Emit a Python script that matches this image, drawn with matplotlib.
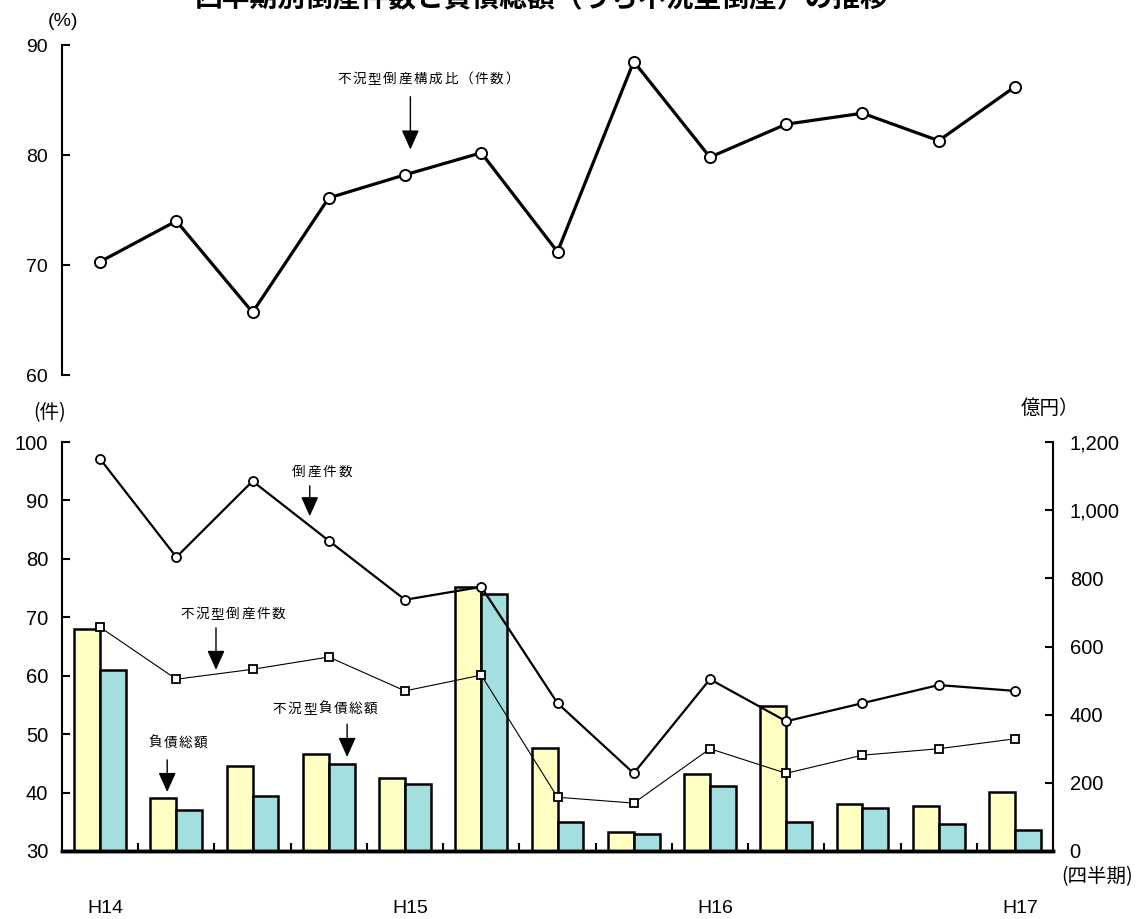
import numpy as np
import matplotlib
matplotlib.use('Agg')
from matplotlib import pyplot as plt

plt.rcParams['font.family'] = ['Noto Sans CJK JP', 'DejaVu Sans']

# quarterly data (H14 Q1 .. H17 Q1)
quarters = ['H14', '', '', '', 'H15', '', '', '', 'H16', '', '', '', 'H17']
ratio_pct = [70.3, 74.0, 65.7, 76.1, 78.2, 80.2, 71.2, 88.5, 79.8, 82.8, 83.8, 81.3, 86.2]
bankrupt_cnt = [97.1, 80.3, 93.3, 83.1, 73.0, 75.2, 55.3, 43.3, 59.4, 52.2, 55.3, 58.4, 57.4]
recession_cnt = [68.3, 59.4, 61.1, 63.2, 57.4, 60.1, 39.2, 38.2, 47.5, 43.3, 46.4, 47.5, 49.2]
debt_total = [651, 156, 249, 285, 214, 775, 302, 56, 226, 425, 138, 132, 173]
debt_recession = [531, 120, 161, 255, 197, 754, 85, 50, 191, 85, 126, 79, 62]

num_font = ['Liberation Sans', 'DejaVu Sans']
narrow_font = ['Liberation Sans Narrow', 'Liberation Sans', 'DejaVu Sans']

W, H = 1139, 919
fig = plt.figure(figsize=(W / 100, H / 100), dpi=100)

def frame(x0, y0, x1, y1):
    return [x0 / W, 1 - y1 / H, (x1 - x0) / W, (y1 - y0) / H]

def spaced(a, xc, y, s, pitch=15.3, size=9.8):
    # draw label one glyph at a time to get the wide letter spacing
    n = len(s)
    for i, ch in enumerate(s):
        a.annotate(ch, xy=(xc, y), xytext=((i - (n - 1) / 2) * pitch, 0),
                   textcoords='offset pixels', ha='center', va='center', fontsize=size)

arrow = dict(arrowstyle='-|>,head_length=1.0,head_width=0.45', color='black', lw=1,
             mutation_scale=12, shrinkA=0, shrinkB=0)

x = np.arange(len(quarters))

# ---- top chart: share of recession-type bankruptcies
ax_top = fig.add_axes(frame(62, 45, 1053, 375))
ax_top.plot(x, ratio_pct, color='black', lw=2.3, marker='o', ms=8,
            mfc='white', mec='black', mew=1.4, zorder=3)
ax_top.set_xlim(-0.5, 12.5)
ax_top.set_ylim(60, 90)
ax_top.set_yticks([60, 70, 80, 90])
ax_top.set_xticks([])
for s in ['top', 'right', 'bottom']:
    ax_top.spines[s].set_visible(False)
ax_top.spines['left'].set_linewidth(1.5)
ax_top.tick_params(axis='y', direction='in', length=6, width=1.5, pad=10)
for lab in ax_top.get_yticklabels():
    lab.set_family(narrow_font)
    lab.set_fontsize(14)
ax_top.annotate('', xy=(4.07, 80.5), xytext=(4.07, 85.3), arrowprops=arrow)
spaced(ax_top, 4.3, 86.9, '不況型倒産構成比（件数）')
fig.text(63 / W, 1 - 22 / H, '(%)', ha='center', va='center', family=narrow_font, fontsize=14)

# ---- bottom chart: counts (left) and debt (right)
ax = fig.add_axes(frame(62, 442, 1053, 851))
ax2 = ax.twinx()
ax.set_zorder(ax2.get_zorder() + 1)
ax.patch.set_visible(False)

bw = 0.34
ax2.bar(x - bw / 2, debt_total, width=bw, color='#FFFFC4', edgecolor='black', lw=1.8)
ax2.bar(x + bw / 2, debt_recession, width=bw, color='#A3DFDF', edgecolor='black', lw=1.8)
ax2.set_ylim(0, 1200)
ax2.set_yticks(range(0, 1201, 200))
ax2.set_yticklabels(['0', '200', '400', '600', '800', '1,000', '1,200'])

ax.plot(x, bankrupt_cnt, color='black', lw=1.6, marker='o', ms=6.5,
        mfc='white', mec='black', mew=1.3)
ax.plot(x, recession_cnt, color='black', lw=0.8, marker='s', ms=5.5,
        mfc='white', mec='black', mew=1.3)
ax.set_xlim(-0.5, 12.5)
ax.set_ylim(30, 100)
ax.set_yticks(range(30, 101, 10))

for a in (ax, ax2):
    a.spines['top'].set_visible(False)
    a.spines['bottom'].set_linewidth(2.5)
    a.spines['left'].set_linewidth(1.5)
    a.spines['right'].set_linewidth(1.5)
ax.spines['right'].set_visible(False)
ax2.spines['left'].set_visible(False)

ax.tick_params(axis='y', direction='in', length=6, width=1.5, pad=10)
ax2.tick_params(axis='y', direction='in', length=6, width=1.5, pad=12)
for lab in ax.get_yticklabels() + ax2.get_yticklabels():
    lab.set_family(num_font)
    lab.set_fontsize(14.5)

ax.set_xticks(x[::4] + 0.07)
ax.set_xticklabels([q for q in quarters if q], family=narrow_font, fontsize=14)
ax.set_xticks(np.arange(0.5, 12, 1), minor=True)
ax.tick_params(axis='x', which='major', length=0, pad=35)
ax.tick_params(axis='x', which='minor', direction='in', length=6, width=1.5)

ax.annotate('', xy=(2.75, 87.3), xytext=(2.75, 92.5), arrowprops=arrow)
spaced(ax, 2.91, 94.9, '倒産件数')
ax.annotate('', xy=(1.52, 61.0), xytext=(1.52, 68.2), arrowprops=arrow)
spaced(ax, 1.74, 70.6, '不況型倒産件数')
ax.annotate('', xy=(3.24, 46.1), xytext=(3.24, 51.7), arrowprops=arrow)
spaced(ax, 2.95, 54.3, '不況型負債総額')
ax.annotate('', xy=(0.88, 40.1), xytext=(0.88, 45.6), arrowprops=arrow)
spaced(ax, 1.02, 48.5, '負債総額')

fig.text(50 / W, 1 - 413 / H, '(件)', ha='center', va='center', fontsize=14)
fig.text(1050 / W, 1 - 408 / H, '億円）', ha='center', va='center', fontsize=14)
fig.text(1097 / W, 1 - 877 / H, '(四半期)', ha='center', va='center', fontsize=14)

fig.text(542 / W, 1 + 2 / H, '四半期別倒産件数と負債総額（うち不況型倒産）の推移',
         ha='center', va='center', fontsize=20, fontweight='bold')

fig.savefig('out.png', dpi=100)
